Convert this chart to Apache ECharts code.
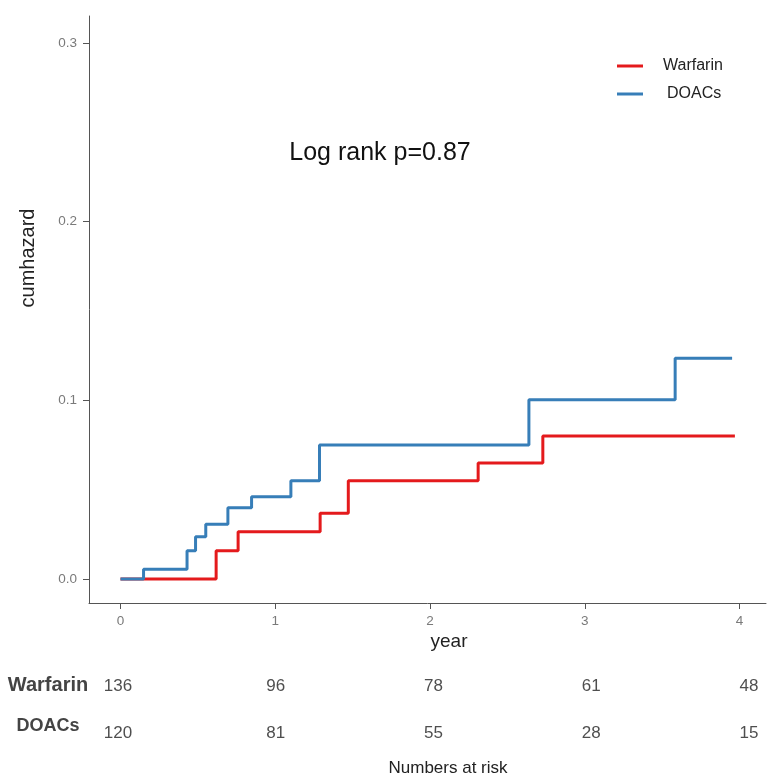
<!DOCTYPE html>
<html>
<head>
<meta charset="utf-8">
<script src="https://cdn.jsdelivr.net/npm/echarts@6/dist/echarts.min.js"></script>
<style>
html,body{margin:0;padding:0;background:#fff;}
#chart{width:767px;height:781px;}
</style>
</head>
<body>
<div id="chart"></div>
<script>
// ---- data ----
const groups = ['Warfarin', 'DOACs'];
const warfarinTimes = [0, 0.618, 0.76, 1.29, 1.472, 2.311, 2.729, 3.97];
const warfarinHaz   = [0, 0.0158, 0.0265, 0.0368, 0.055, 0.0649, 0.080, 0.080];
const doacsTimes = [0, 0.149, 0.43, 0.485, 0.551, 0.694, 0.847, 1.101, 1.286, 2.639, 3.584, 3.952];
const doacsHaz   = [0, 0.0054, 0.0158, 0.0237, 0.0306, 0.0399, 0.0461, 0.055, 0.075, 0.1003, 0.1236, 0.1236];
const xTicks = [0, 1, 2, 3, 4];
const yTicks = [0, 0.1, 0.2, 0.3];
const riskTimes = [0, 1, 2, 3, 4];
const warfarinRisk = [136, 96, 78, 61, 48];
const doacsRisk = [120, 81, 55, 28, 15];
const pText = 'Log rank p=0.87';

const FONT = "'Liberation Sans', Arial, sans-serif";
const RED = '#e41a1c', BLUE = '#377eb8';

function pairs(xs, ys) { return xs.map((x, i) => [x, ys[i]]); }

// category index: 0 = DOACs (bottom row), 1 = Warfarin (top row)
const riskData = [];
riskTimes.forEach((t, i) => riskData.push({value: [t, 1, warfarinRisk[i]]}));
riskTimes.forEach((t, i) => riskData.push({value: [t, 0, doacsRisk[i]]}));

const chart = echarts.init(document.getElementById('chart'), null, {renderer: 'canvas'});
chart.setOption({
  backgroundColor: '#fff',
  animation: false,
  textStyle: {fontFamily: FONT},
  grid: [
    {left: 89, right: 1, top: 16, bottom: 178, containLabel: false},
    {left: 118, right: 18, top: 661, height: 96, containLabel: false}
  ],
  xAxis: [
    {
      type: 'value', gridIndex: 0, min: -0.2035, max: 4.171,
      axisLine: {show: true, onZero: false, lineStyle: {color: '#555', width: 1}},
      axisTick: {show: true, length: 6, lineStyle: {color: '#555'}, customValues: xTicks},
      axisLabel: {show: true, customValues: xTicks, color: '#7a7a7a', fontSize: 13.5, margin: 11, fontFamily: FONT},
      splitLine: {show: false}
    },
    {
      type: 'value', gridIndex: 1, min: 0, max: 4,
      axisLine: {show: false}, axisTick: {show: false}, axisLabel: {show: false}, splitLine: {show: false}
    }
  ],
  yAxis: [
    {
      type: 'value', gridIndex: 0, min: -0.01343, max: 0.3151,
      axisLine: {show: true, onZero: false, lineStyle: {color: '#555', width: 1}},
      axisTick: {show: true, length: 6, lineStyle: {color: '#555'}, customValues: yTicks},
      axisLabel: {show: true, customValues: yTicks, color: '#7a7a7a', fontSize: 13.5, margin: 12, fontFamily: FONT,
        formatter: v => v.toFixed(1)},
      splitLine: {show: false}
    },
    {
      type: 'category', gridIndex: 1, data: ['DOACs', 'Warfarin'],
      axisLine: {show: false}, axisTick: {show: false}, splitLine: {show: false},
      axisLabel: {
        show: true, margin: 70, align: 'center', fontFamily: FONT,
        formatter: v => v === 'Warfarin' ? '{w|Warfarin}' : '{d|DOACs}',
        rich: {
          w: {fontSize: 20, fontWeight: 'bold', color: '#444', fontFamily: FONT, padding: [0, 0, 0, 0]},
          d: {fontSize: 18, fontWeight: 'bold', color: '#444', fontFamily: FONT, padding: [0, 0, 14, 0]}
        }
      }
    }
  ],
  legend: {
    orient: 'vertical', left: 617, top: 58, padding: 0, itemWidth: 26, itemHeight: 3, itemGap: 12,
    icon: 'rect', data: groups,
    formatter: n => n === 'Warfarin' ? '{w|Warfarin}' : '{d|DOACs}',
    textStyle: {
      fontSize: 16, color: '#222', fontFamily: FONT, lineHeight: 16,
      rich: {
        w: {fontSize: 16, color: '#222', fontFamily: FONT, padding: [0, 0, 0, 15]},
        d: {fontSize: 16, color: '#222', fontFamily: FONT, padding: [0, 0, 0, 19]}
      }
    }
  },
  series: [
    {
      name: 'Warfarin', type: 'line', step: 'end', xAxisIndex: 0, yAxisIndex: 0,
      data: pairs(warfarinTimes, warfarinHaz), showSymbol: false, symbol: 'none',
      color: RED, lineStyle: {color: RED, width: 3}, z: 2
    },
    {
      name: 'DOACs', type: 'line', step: 'end', xAxisIndex: 0, yAxisIndex: 0,
      data: pairs(doacsTimes, doacsHaz), showSymbol: false, symbol: 'none',
      color: BLUE, lineStyle: {color: BLUE, width: 3}, z: 3
    },
    {
      name: 'risk', type: 'scatter', xAxisIndex: 1, yAxisIndex: 1,
      data: riskData, symbolSize: 2, itemStyle: {color: 'rgba(0,0,0,0)'},
      label: {
        show: true, position: 'inside', fontSize: 17, color: '#222', fontFamily: FONT,
        formatter: p => '{' + (p.value[1] === 1 ? 'w' : 'd') + '|' + p.value[2] + '}',
        rich: {
          w: {fontSize: 17, color: '#222', fontFamily: FONT, padding: [2, 0, 0, 0]},
          d: {fontSize: 17, color: '#222', fontFamily: FONT, padding: [0, 0, 0, 0]}
        }
      },
      emphasis: {disabled: true}, silent: true
    }
  ],
  graphic: [
    {type: 'text', x: 28, y: 258, rotation: Math.PI / 2,
      style: {text: 'cumhazard', fontSize: 20, fill: '#222', fontFamily: FONT, textAlign: 'center', textVerticalAlign: 'middle'}},
    {type: 'text', x: 449, y: 642,
      style: {text: 'year', fontSize: 19, fill: '#222', fontFamily: FONT, textAlign: 'center', textVerticalAlign: 'middle'}},
    {type: 'text', x: 380, y: 153,
      style: {text: pText, fontSize: 25, fill: '#111', fontFamily: FONT, textAlign: 'center', textVerticalAlign: 'middle'}},
    {type: 'text', x: 448, y: 768,
      style: {text: 'Numbers at risk', fontSize: 17, fill: '#222', fontFamily: FONT, textAlign: 'center', textVerticalAlign: 'middle'}}
  ]
});
</script>
</body>
</html>
